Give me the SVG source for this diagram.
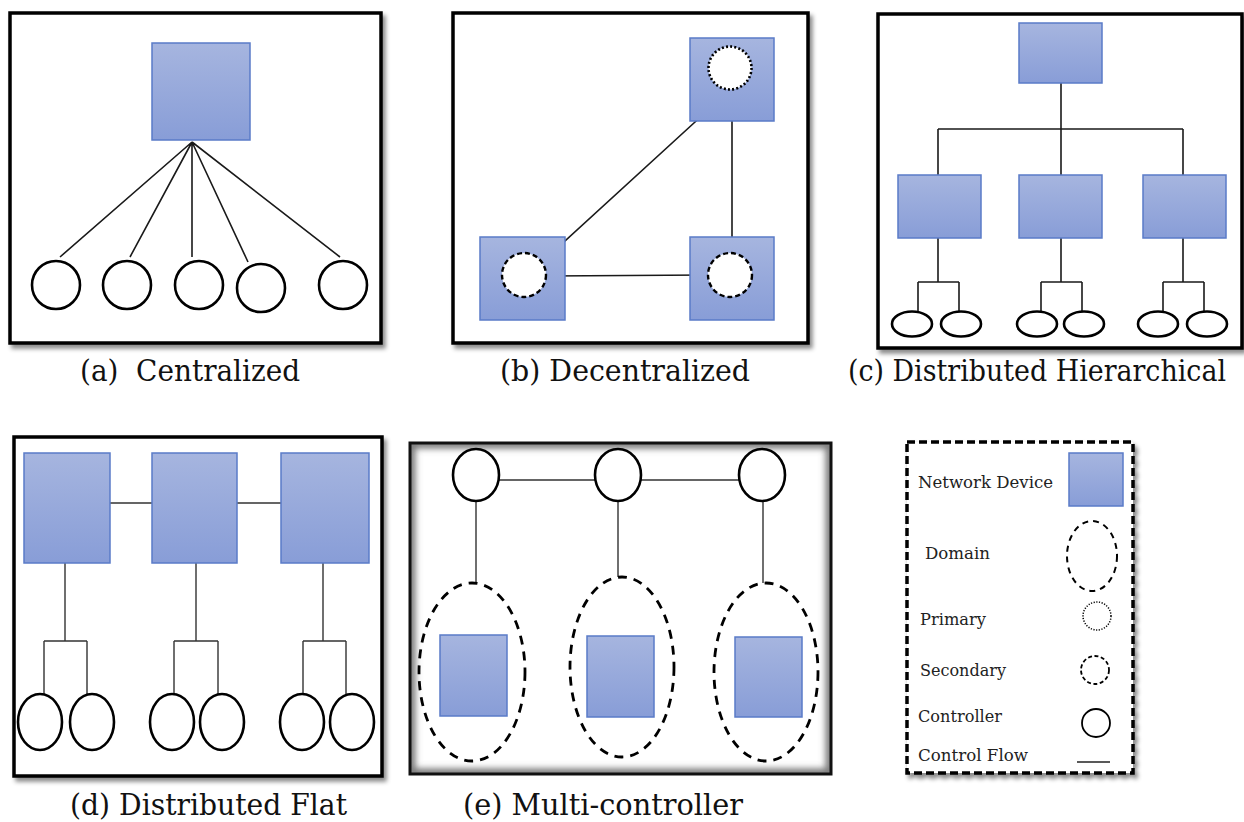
<svg xmlns="http://www.w3.org/2000/svg" width="1244" height="822" viewBox="0 0 1244 822">
<defs>
<linearGradient id="blue" x1="0" y1="0" x2="0" y2="1">
<stop offset="0" stop-color="#a6b5df"/>
<stop offset="1" stop-color="#889dd7"/>
</linearGradient>
<filter id="shadow" x="-5%" y="-5%" width="115%" height="115%">
<feDropShadow dx="3" dy="4" stdDeviation="2" flood-color="#000" flood-opacity="0.45"/>
</filter>
<filter id="blur3"><feGaussianBlur stdDeviation="3"/></filter>
<clipPath id="clipE"><rect x="411" y="444" width="419" height="329"/></clipPath>
</defs>
<style>
.frame{fill:#fff;stroke:#000;stroke-width:3.5}
.dev{fill:url(#blue);stroke:#5a7bc8;stroke-width:1.5}
.ctl{fill:#fff;stroke:#000;stroke-width:2.6}
.ln{fill:none;stroke:#1a1a1a;stroke-width:1.6}
.ln2{fill:none;stroke:#333;stroke-width:1.4}
.prim{fill:#fff;stroke:#000;stroke-width:2.6;stroke-dasharray:2 2.2}
.sec{fill:#fff;stroke:#000;stroke-width:2.4;stroke-dasharray:5 3}
.dom{fill:none;stroke:#000;stroke-width:2.8;stroke-dasharray:9 7}
.cap{font-family:"DejaVu Serif",serif;font-size:29px;fill:#111}
.leg{font-family:"DejaVu Serif",serif;font-size:17px;fill:#222}
</style>

<!-- Frames -->
<g id="frames">
<rect class="frame" x="10" y="13" width="371" height="330" filter="url(#shadow)"/>
<rect class="frame" x="453" y="13" width="355" height="330" filter="url(#shadow)"/>
<rect class="frame" x="878" y="14" width="364" height="334" filter="url(#shadow)"/>
<rect class="frame" x="14" y="437" width="368" height="339" filter="url(#shadow)"/>
<g id="frame-e">
<rect x="410" y="443" width="421" height="331" fill="#fff"/>
<g clip-path="url(#clipE)"><rect x="411" y="444" width="419" height="329" fill="none" stroke="#777" stroke-width="9" filter="url(#blur3)"/></g>
<rect x="410" y="443" width="421" height="331" fill="none" stroke="#111" stroke-width="3"/>
</g>
</g>

<!-- Connectors -->
<g id="connectors">
<path class="ln" d="M192 142L60 257M192 142L130 257M192 142L192 257M192 142L248 262M192 142L340 257"/>
<path class="ln" d="M730 90L542 262M732 90L732 253M547 276L708 275"/>
<path class="ln" d="M1061 83V129M938 129H1183M938 129V175M1061 129V175M1183 129V175"/>
<path class="ln" d="M938 238V282M918 282H959M918 282V312M959 282V312"/>
<path class="ln" d="M1061 238V282M1041 282H1082M1041 282V312M1082 282V312"/>
<path class="ln" d="M1183 238V282M1163 282H1204M1163 282V312M1204 282V312"/>
<path class="ln2" d="M110 503H152M237 503H281"/>
<path class="ln2" d="M65 563V641M44 641H87M44 641V702M87 641V702"/>
<path class="ln2" d="M196 563V641M174 641H218M174 641V702M218 641V702"/>
<path class="ln2" d="M323 563V641M303 641H346M303 641V702M346 641V702"/>
<path class="ln2" d="M499 480H595M641 480H739"/>
<path class="ln2" d="M476 501V583M618 501V577M763 501V583"/>
</g>

<!-- (a) Centralized -->
<g id="a-device"><rect class="dev" x="152" y="43" width="98" height="97"/></g>
<g id="a-ctl1"><circle class="ctl" cx="56" cy="285" r="24"/></g>
<g id="a-ctl2"><circle class="ctl" cx="127" cy="285" r="24"/></g>
<g id="a-ctl3"><circle class="ctl" cx="199" cy="285" r="24"/></g>
<g id="a-ctl4"><circle class="ctl" cx="261" cy="288" r="24"/></g>
<g id="a-ctl5"><circle class="ctl" cx="343" cy="285" r="24"/></g>
<text class="cap" x="80" y="381" textLength="220" lengthAdjust="spacingAndGlyphs" xml:space="preserve">(a)  Centralized</text>

<!-- (b) Decentralized -->
<g id="b-node1"><rect class="dev" x="690" y="38" width="84" height="83"/><circle class="prim" cx="730" cy="68" r="21.5"/></g>
<g id="b-node2"><rect class="dev" x="480" y="237" width="85" height="83"/><circle class="sec" cx="524" cy="275" r="22"/></g>
<g id="b-node3"><rect class="dev" x="690" y="237" width="84" height="83"/><circle class="sec" cx="730" cy="275" r="22"/></g>
<text class="cap" x="500" y="381" textLength="250" lengthAdjust="spacingAndGlyphs">(b) Decentralized</text>

<!-- (c) Distributed Hierarchical -->
<g id="c-root"><rect class="dev" x="1019" y="23" width="83" height="60"/></g>
<g id="c-mid1"><rect class="dev" x="898" y="175" width="83" height="63"/></g>
<g id="c-mid2"><rect class="dev" x="1019" y="175" width="83" height="63"/></g>
<g id="c-mid3"><rect class="dev" x="1143" y="175" width="83" height="63"/></g>
<g id="c-ctl1"><ellipse class="ctl" cx="912" cy="324" rx="20" ry="12.5"/></g>
<g id="c-ctl2"><ellipse class="ctl" cx="961" cy="324" rx="20" ry="12.5"/></g>
<g id="c-ctl3"><ellipse class="ctl" cx="1037" cy="324" rx="20" ry="12.5"/></g>
<g id="c-ctl4"><ellipse class="ctl" cx="1084" cy="324" rx="20" ry="12.5"/></g>
<g id="c-ctl5"><ellipse class="ctl" cx="1158" cy="324" rx="20" ry="12.5"/></g>
<g id="c-ctl6"><ellipse class="ctl" cx="1207" cy="324" rx="20" ry="12.5"/></g>
<text class="cap" x="848" y="381" font-size="28" textLength="378" lengthAdjust="spacingAndGlyphs">(c) Distributed Hierarchical</text>

<!-- (d) Distributed Flat -->
<g id="d-dev1"><rect class="dev" x="24" y="453" width="86" height="110"/></g>
<g id="d-dev2"><rect class="dev" x="152" y="453" width="85" height="110"/></g>
<g id="d-dev3"><rect class="dev" x="281" y="453" width="88" height="110"/></g>
<g id="d-ctl1"><ellipse class="ctl" cx="40" cy="722" rx="22" ry="28"/></g>
<g id="d-ctl2"><ellipse class="ctl" cx="92" cy="722" rx="22" ry="28"/></g>
<g id="d-ctl3"><ellipse class="ctl" cx="172" cy="722" rx="22" ry="28"/></g>
<g id="d-ctl4"><ellipse class="ctl" cx="222" cy="722" rx="22" ry="28"/></g>
<g id="d-ctl5"><ellipse class="ctl" cx="302" cy="722" rx="22" ry="28"/></g>
<g id="d-ctl6"><ellipse class="ctl" cx="352" cy="722" rx="22" ry="28"/></g>
<text class="cap" x="70" y="815" textLength="277" lengthAdjust="spacingAndGlyphs">(d) Distributed Flat</text>

<!-- (e) Multi-controller -->
<g id="e-ctl1"><ellipse class="ctl" cx="476" cy="475" rx="23" ry="26"/></g>
<g id="e-ctl2"><ellipse class="ctl" cx="618" cy="475" rx="23" ry="26"/></g>
<g id="e-ctl3"><ellipse class="ctl" cx="762" cy="475" rx="23" ry="26"/></g>
<g id="e-dom1"><ellipse class="dom" cx="472" cy="672" rx="53" ry="89"/><rect class="dev" x="440" y="635" width="67" height="81"/></g>
<g id="e-dom2"><ellipse class="dom" cx="622" cy="667" rx="52" ry="90"/><rect class="dev" x="587" y="636" width="67" height="81"/></g>
<g id="e-dom3"><ellipse class="dom" cx="766" cy="672" rx="52" ry="89"/><rect class="dev" x="735" y="637" width="67" height="80"/></g>
<text class="cap" x="463" y="815" textLength="280" lengthAdjust="spacingAndGlyphs">(e) Multi-controller</text>

<!-- Legend -->
<g id="legend">
<rect x="907" y="442" width="226" height="331" fill="#fff" stroke="#000" stroke-width="3.5" stroke-dasharray="8 4" filter="url(#shadow)"/>
<text class="leg" x="918" y="488" textLength="135" lengthAdjust="spacingAndGlyphs">Network Device</text>
<rect class="dev" x="1069" y="453" width="54" height="53"/>
<text class="leg" x="925" y="559" textLength="65" lengthAdjust="spacingAndGlyphs">Domain</text>
<ellipse cx="1092" cy="556" rx="25" ry="35" fill="none" stroke="#000" stroke-width="2" stroke-dasharray="6 5"/>
<text class="leg" x="920" y="625" textLength="66" lengthAdjust="spacingAndGlyphs">Primary</text>
<circle cx="1097" cy="616" r="14" fill="none" stroke="#000" stroke-width="1.5" stroke-dasharray="1.2 1.5"/>
<text class="leg" x="920" y="676" textLength="86" lengthAdjust="spacingAndGlyphs">Secondary</text>
<circle cx="1095" cy="670" r="14" fill="none" stroke="#000" stroke-width="1.8" stroke-dasharray="4 2.5"/>
<text class="leg" x="918" y="722" textLength="84" lengthAdjust="spacingAndGlyphs">Controller</text>
<circle cx="1096" cy="723" r="14" fill="none" stroke="#000" stroke-width="1.8"/>
<text class="leg" x="918" y="761" textLength="110" lengthAdjust="spacingAndGlyphs">Control Flow</text>
<line x1="1077" y1="762" x2="1110" y2="762" stroke="#222" stroke-width="1.5"/>
</g>
</svg>
